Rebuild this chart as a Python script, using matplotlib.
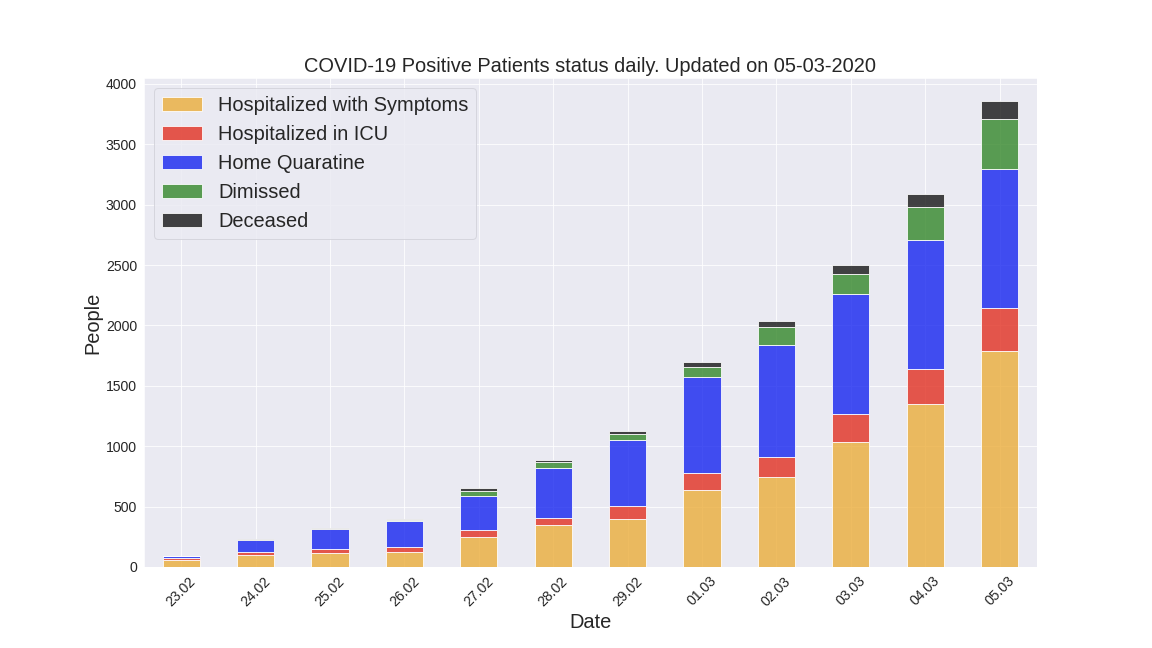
import numpy as np
import pandas as pd
import matplotlib
matplotlib.use("Agg")
import matplotlib.pyplot as plt
import seaborn as sns

dates = ["23.02", "24.02", "25.02", "26.02", "27.02", "28.02",
         "29.02", "01.03", "02.03", "03.03", "04.03", "05.03"]
hospitalized = [54, 101, 114, 128, 248, 345, 401, 639, 742, 1034, 1346, 1790]
icu = [19, 26, 35, 36, 56, 64, 105, 140, 166, 229, 295, 351]
home = [17, 94, 162, 221, 284, 412, 543, 798, 927, 1000, 1065, 1155]
dimissed = [1, 1, 1, 3, 45, 46, 50, 83, 149, 160, 276, 414]
deceased = [2, 7, 10, 12, 17, 21, 29, 34, 52, 79, 107, 148]

sns.set_style("darkgrid")
plt.rcParams["font.family"] = ["Liberation Sans", "DejaVu Sans"]

df = pd.DataFrame(
    {
        "Hospitalized with Symptoms": hospitalized,
        "Hospitalized in ICU": icu,
        "Home Quaratine": home,
        "Dimissed": dimissed,
        "Deceased": deceased,
    },
    index=dates,
)

fg, ax = plt.subplots(figsize=(16, 9), dpi=72)
fg.subplots_adjust(left=0.125, right=0.9, top=0.88, bottom=0.125)
df.plot.bar(
    stacked=True,
    ax=ax,
    alpha=0.8,
    color=["#EBAD3A", "#E23021", "#1625F0", "#34872A", "#161616"],
    edgecolor="white",
    linewidth=1,
)
ax.set_title(
    "COVID-19 Positive Patients status daily. Updated on 05-03-2020",
    fontsize=20,
)
ax.set_xlabel("Date", fontsize=20)
ax.set_ylabel("People", fontsize=20)
ax.tick_params(axis="both", which="major", labelsize=14)
plt.setp(ax.get_xticklabels(), rotation=45)
leg = ax.legend(loc="upper left", fontsize=20, frameon=True)
leg.get_frame().set_facecolor("#EAEAF2")
leg.get_frame().set_edgecolor("#d0d0d8")
fg.savefig("out.png", dpi=72)
